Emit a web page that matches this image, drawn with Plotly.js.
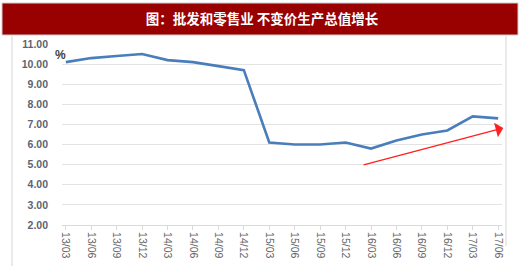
<!DOCTYPE html>
<html><head><meta charset="utf-8">
<script src="https://cdn.plot.ly/plotly-3.0.1.min.js"></script>
<style>html,body{margin:0;padding:0;background:#fff}#chart{width:520px;height:270px}</style>
</head><body><div id="chart"></div>
<script>
const categories = ["13/03","13/06","13/09","13/12","14/03","14/06","14/09","14/12","15/03","15/06","15/09","15/12","16/03","16/06","16/09","16/12","17/03","17/06"];
const growth = [10.1,10.3,10.4,10.5,10.2,10.1,9.9,9.7,6.1,6.0,6.0,6.1,5.8,6.2,6.5,6.7,7.4,7.3];
const yTicks = [2,3,4,5,6,7,8,9,10,11];
const titleText = "图：批发和零售业 不变价生产总值增长";
const unitText = "%";
const arrowFrom = {x: 11.65, y: 4.97};
const arrowTo = {x: 17.2, y: 6.82};

const trace = {
  x: categories, y: growth, type: 'scatter', mode: 'lines',
  line: {color: '#4a7ebb', width: 2.6}, hoverinfo: 'none'
};
const layout = {
  width: 520, height: 270,
  margin: {l: 62, r: 18, t: 44, b: 45},
  paper_bgcolor: '#ffffff', plot_bgcolor: '#ffffff',
  showlegend: false,
  title: {text: titleText, x: 262/520, xanchor: 'center', y: 1 - 19/270, yanchor: 'middle', yref: 'container',
    font: {family: 'Noto Sans CJK SC', size: 13.5, color: '#ffffff', weight: 'bold'}},
  xaxis: {type: 'category', range: [-0.15, 17.15], tickangle: 90, showgrid: false,
    showline: true, linecolor: '#d9d9d9', linewidth: 1, ticks: 'outside', ticklen: 4, tickcolor: '#d9d9d9',
    tickfont: {family: 'Liberation Sans', size: 10.5, color: '#666666'}, zeroline: false, fixedrange: true},
  yaxis: {range: [2, 11], tickvals: yTicks, ticktext: yTicks.map(v => v.toFixed(2)),
    showgrid: true, gridcolor: '#e3e3e3', gridwidth: 1.2, zeroline: false, showline: false,
    tickfont: {family: 'Liberation Sans', size: 10.5, color: '#5b6473', weight: 'bold'}, ticklabelstandoff: 13, fixedrange: true},
  shapes: [
    {type: 'rect', xref: 'paper', yref: 'paper', x0: (2-62)/440, x1: (518-62)/440, y0: (225-35)/181, y1: (225-3)/181,
      fillcolor: '#990000', line: {color: '#cfcfcf', width: 1}, layer: 'below'},
    {type: 'line', xref: 'paper', yref: 'paper', x0: (12-62)/440, x1: (12-62)/440, y0: (225-266)/181, y1: (225-36)/181,
      line: {color: '#e3e3e3', width: 1.5}},
    {type: 'line', xref: 'paper', yref: 'paper', x0: (506-62)/440, x1: (506-62)/440, y0: (225-246)/181, y1: (225-36)/181,
      line: {color: '#e3e3e3', width: 1.5}}
  ],
  annotations: [
    {x: arrowTo.x, y: arrowTo.y, ax: arrowFrom.x, ay: arrowFrom.y, xref: 'x', yref: 'y', axref: 'x', ayref: 'y',
      showarrow: true, arrowhead: 1, arrowsize: 1.8, arrowwidth: 1.4, arrowcolor: '#ff2020', text: ''},
    {x: 0, y: 11, xref: 'paper', yref: 'y', text: unitText, showarrow: false, xanchor: 'left', yanchor: 'top', xshift: -9, yshift: -2,
      font: {family: 'Liberation Sans', size: 12, color: '#404040', weight: 'bold'}}
  ]
};
Plotly.newPlot('chart', [trace], layout, {staticPlot: true, displayModeBar: false});
</script></body></html>
